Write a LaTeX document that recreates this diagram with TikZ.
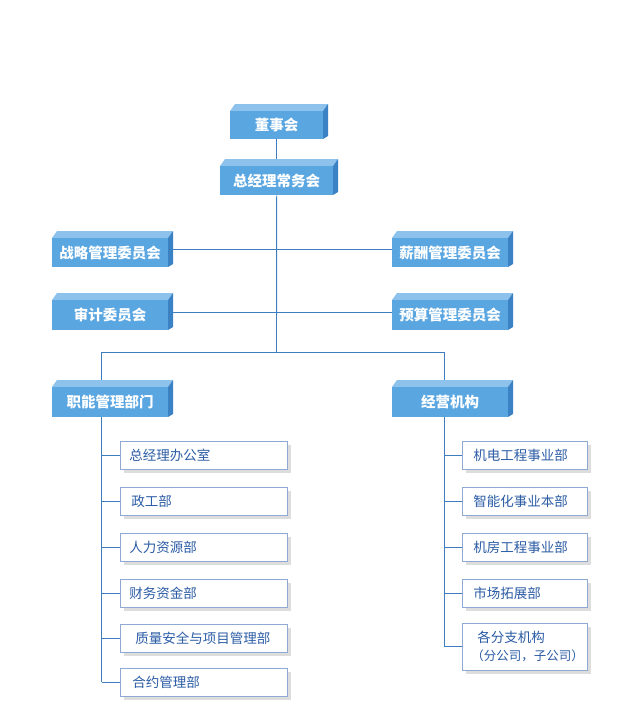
\documentclass[tikz,border=0pt]{standalone}
\usepackage{fontspec}
\newfontfamily\cjk{Noto Sans CJK SC}
\usetikzlibrary{backgrounds}
\definecolor{frontc}{HTML}{5AA6E1}
\definecolor{topc}{HTML}{8CC2EC}
\definecolor{sidec}{HTML}{3B82C4}
\definecolor{linec}{HTML}{3E7EC0}
\definecolor{lbord}{HTML}{8EAAD3}
\definecolor{ltext}{HTML}{2B5CA5}
\definecolor{shad}{HTML}{DDDDDD}
\newcommand\tdbox[6]{%
  \fill[topc] (#2,#3) -- (#2+5,#3-7) -- (#2+#4+5,#3-7) -- (#2+#4,#3) -- cycle;
  \fill[sidec] (#2+#4,#3) -- (#2+#4+5,#3-7) -- (#2+#4+5,#3+#5-3) -- (#2+#4,#3+#5) -- cycle;
  \node[box3d, minimum width=#4, minimum height=#5] (#1) at (#2,#3) {#6};}
\newcommand\lbox[6]{%
  \fill[shad] (#2+4,#3+4) rectangle (#2+#4+4,#3+#5+4);
  \node[lightbox, minimum height=#5, text width=#4-18] (#1) at (#2,#3) {#6};}
\begin{document}
\begin{tikzpicture}[x=1pt,y=-1pt,
  box3d/.style={fill=frontc, text=white, font=\cjk\bfseries\fontsize{14.5}{16}\selectfont, inner sep=0pt, anchor=north west},
  lightbox/.style={draw=lbord, line width=0.8pt, fill=white, text=ltext, font=\cjk\fontsize{13.5}{20}\selectfont, inner xsep=9pt, inner ysep=0pt, align=left, anchor=north west},
  conn/.style={draw=linec, line width=0.9pt}]
\useasboundingbox (0,0) rectangle (630,726);
% 3D boxes
\tdbox{dsh}{230}{111}{93}{28}{董事会}
\tdbox{zj}{220}{166}{113}{29}{总经理常务会}
\tdbox{zl}{52}{238}{116}{29}{战略管理委员会}
\tdbox{xc}{392}{238}{116}{29}{薪酬管理委员会}
\tdbox{sj}{52}{300}{116}{30}{审计委员会}
\tdbox{ys}{392}{300}{116}{30}{预算管理委员会}
\tdbox{zn}{52}{387}{116}{30}{职能管理部门}
\tdbox{jy}{392}{387}{116}{30}{经营机构}
% left light boxes
\lbox{l1}{120}{441}{167}{28}{总经理办公室}
\lbox{l2}{120}{487}{167}{28}{\hspace{2pt}政工部}
\lbox{l3}{120}{533}{167}{28}{人力资源部}
\lbox{l4}{120}{579}{167}{28}{财务资金部}
\lbox{l5}{120}{624}{167}{28}{\hspace{6pt}质量安全与项目管理部}
\lbox{l6}{120}{668}{167}{28}{\hspace{3pt}合约管理部}
% right light boxes
\lbox{r1}{462}{441}{125}{28}{\hspace{2pt}机电工程事业部}
\lbox{r2}{462}{487}{125}{28}{\hspace{2pt}智能化事业本部}
\lbox{r3}{462}{533}{125}{28}{\hspace{2pt}机房工程事业部}
\lbox{r4}{462}{579}{125}{28}{\hspace{2pt}市场拓展部}
\lbox{r5}{462}{623}{125}{47}{\hspace{6pt}各分支机构\\[-2pt]{\fontsize{12.5}{14}\selectfont （分公司，子公司）}}
\coordinate (hub) at (276.5,352);
\coordinate (hl) at (101.5,352);
\coordinate (hr) at (444,352);
\begin{pgfonlayer}{background}
\draw[conn] (dsh.south) -- (zj.north);
\draw[conn] (zj.south) -- (hub);
\draw[conn] ([yshift=3.5pt]zl.east) -- ([yshift=3.5pt]xc.west);
\draw[conn] ([yshift=3pt]sj.east) -- ([yshift=3pt]ys.west);
\draw[conn] (hl) -- (hr);
\draw[conn] (hl) -- (hl |- zn.north);
\draw[conn] (hr) -- (hr |- jy.north);
\draw[conn] (hl |- zn.south) -- (hl |- l6.west);
\draw[conn] (hr |- jy.south) -- (hr |- r5.west);
\foreach \n in {l1,l2,l3,l4,l5,l6} \draw[conn] (hl |- \n.west) -- (\n.west);
\foreach \n in {r1,r2,r3,r4,r5} \draw[conn] (hr |- \n.west) -- (\n.west);
\end{pgfonlayer}
\end{tikzpicture}
\end{document}
